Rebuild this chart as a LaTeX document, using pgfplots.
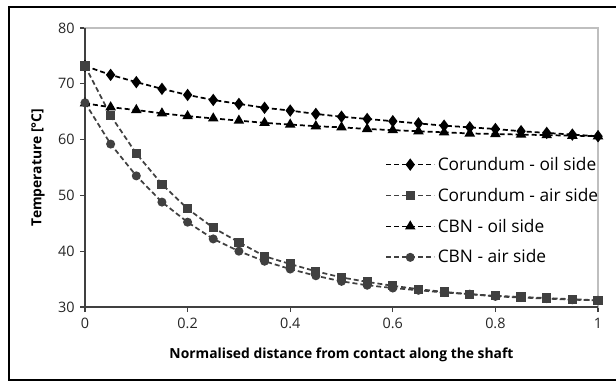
\documentclass[border=0pt]{standalone}
\usepackage{pgfplots}
\pgfplotsset{compat=1.18}
\usepackage{pgfplotstable}
\usepackage{fontspec}
\setmainfont{Open Sans}

\definecolor{darkgrey}{HTML}{404040}
\definecolor{ticktext}{HTML}{262626}
\definecolor{boxgrey}{HTML}{BFBFBF}

% Temperature along the shaft, x = normalised distance from contact
\pgfplotstableread{
x     coroil corair cbnoil cbnair
0.00  73.2   73.2   66.5   66.6
0.05  71.6   64.3   65.8   59.2
0.10  70.3   57.5   65.3   53.5
0.15  69.1   52.0   64.7   48.8
0.20  68.0   47.6   64.2   45.2
0.25  67.1   44.2   63.8   42.2
0.30  66.4   41.6   63.4   40.0
0.35  65.7   39.1   63.0   38.2
0.40  65.2   37.7   62.7   36.8
0.45  64.6   36.4   62.4   35.6
0.50  64.1   35.3   62.2   34.6
0.55  63.7   34.5   61.9   33.9
0.60  63.3   33.8   61.7   33.4
0.65  62.9   33.2   61.5   33.0
0.70  62.5   32.7   61.3   32.6
0.75  62.2   32.3   61.1   32.3
0.80  61.9   32.0   61.0   31.9
0.85  61.5   31.8   60.9   31.7
0.90  61.2   31.6   60.8   31.5
0.95  60.9   31.4   60.7   31.3
1.00  60.6   31.2   60.6   31.2
}\temps

\begin{document}
\begin{tikzpicture}[x=0.75pt,y=0.75pt]
\fill[white] (0,0) rectangle (616,381);
\begin{axis}[
  at={(63.75pt,55.5pt)}, anchor=south west,
  scale only axis, width=384.75pt, height=209.25pt,
  xmin=0, xmax=1, ymin=30, ymax=80,
  xtick={0,0.2,...,1}, ytick={30,40,...,80},
  xticklabels={0,0.2,0.4,0.6,0.8,1},
  /pgf/number format/assume math mode=true,
  tick align=outside, xtick pos=bottom, ytick pos=left,
  major tick length=3.75pt,
  tick style={darkgrey, line width=1pt},
  axis line style={boxgrey, line width=0.8pt},
  tick label style={font=\fontsize{10.8}{12}\selectfont, text=ticktext},
  xticklabel style={yshift=-1pt},
  yticklabel style={xshift=-0.5pt},
  xlabel={\textbf{Normalised distance from contact along the shaft}},
  ylabel={\textbf{Temperature [°C]}},
  label style={font=\fontsize{10.4}{12}\selectfont},
  xlabel style={at={(rel axis cs:0.5,-0.1828)}, anchor=base},
  ylabel style={at={(rel axis cs:-0.0916,0.5)}, anchor=center},
  every axis plot/.append style={line width=1.3pt, dash pattern=on 3.75pt off 2.25pt},
  legend cell align=left,
  legend style={draw=none, fill=none, at={(rel axis cs:0.585,0.548)}, anchor=north west,
    font=\fontsize{13}{15}\selectfont,
    row sep=7.8pt, inner sep=0pt},
  legend image code/.code={
    \draw[#1] (0,0) -- (36pt,0);
    \draw[#1, mark repeat=2, mark phase=2] plot coordinates {(0,0) (18pt,0) (36pt,0)};
  },
  clip=false,
]
\addplot[black, mark=diamond*, mark size=3.6pt, mark options={solid}] table[x=x, y=coroil] {\temps};
\addlegendentry{Corundum - oil side}
\addplot[darkgrey, mark=square*, mark size=2.8pt, mark options={solid}] table[x=x, y=corair] {\temps};
\addlegendentry{Corundum - air side}
\addplot[black, mark=triangle*, mark size=3.3pt, mark options={solid}] table[x=x, y=cbnoil] {\temps};
\addlegendentry{CBN - oil side}
\addplot[darkgrey, mark=*, mark size=2.7pt, mark options={solid}] table[x=x, y=cbnair] {\temps};
\addlegendentry{CBN - air side}
\draw[darkgrey, line width=1.2pt] (rel axis cs:0,1) -- (rel axis cs:0,0) -- (rel axis cs:1,0);
\end{axis}
\draw[black, line width=1.5pt] (9,1) rectangle (640,374);
\pgfresetboundingbox
\path[use as bounding box] (0,0) rectangle (616,381);
\end{tikzpicture}
\end{document}
